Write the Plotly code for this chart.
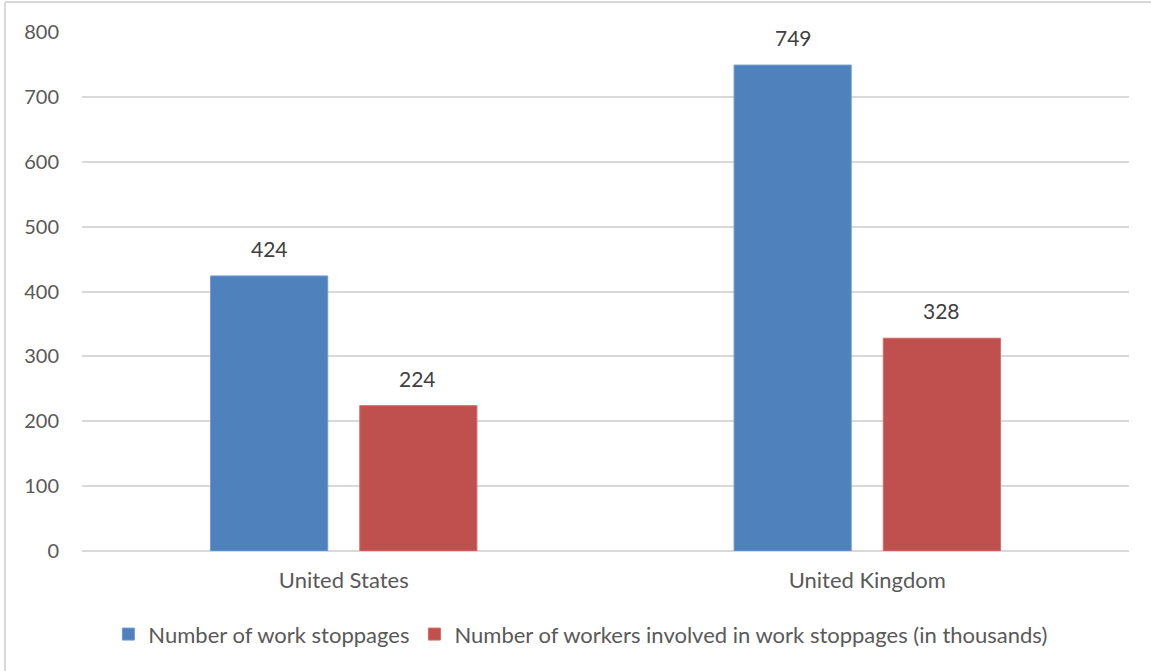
import plotly.graph_objects as go

categories = ["United States", "United Kingdom"]
stoppages = [424, 749]
workers = [224, 328]
series_names = ["Number of work stoppages",
                "Number of workers involved in work stoppages (in thousands)"]
y_ticks = [0, 100, 200, 300, 400, 500, 600, 700, 800]

FONT = "Lato, 'Open Sans', sans-serif"
LABEL_COLOR = "#404040"

fig = go.Figure()
fig.add_trace(go.Bar(
    x=categories, y=stoppages, name=series_names[0],
    marker=dict(color="#4F81BD", line=dict(color="#6F9AD0", width=1)),
))
fig.add_trace(go.Bar(
    x=categories, y=workers, name=series_names[1],
    marker=dict(color="#C0504D", line=dict(color="#D06A67", width=1)),
))

annotations = []
for vals, shift in ((stoppages, -74), (workers, 74)):
    for cat, v in zip(categories, vals):
        annotations.append(dict(
            x=cat, y=v, xref="x", yref="y", text=str(v), showarrow=False,
            xanchor="center", yanchor="bottom", xshift=shift, yshift=13,
            font=dict(size=21, color=LABEL_COLOR, family=FONT)))

fig.update_layout(
    width=1151, height=671,
    margin=dict(l=82, r=22, t=32, b=120),
    paper_bgcolor="white", plot_bgcolor="white",
    barmode="group", bargap=0.43, bargroupgap=0.215,
    font=dict(family=FONT, size=20, color="#595959"),
    showlegend=True,
    legend=dict(orientation="h", x=0.476, xanchor="center", y=-0.12, yanchor="top",
                font=dict(size=22, color="#595959"), itemwidth=30,
                traceorder="normal"),
    xaxis=dict(showgrid=False, showline=False, ticks="", ticklabelstandoff=14,
               tickfont=dict(size=22, color="#595959")),
    yaxis=dict(range=[0, 800], tickvals=y_ticks, showgrid=True,
               gridcolor="#D9D9D9", gridwidth=1.5, zeroline=True,
               zerolinecolor="#D9D9D9", zerolinewidth=1.5, showline=False,
               ticks="", ticklabelstandoff=22,
               tickfont=dict(size=20, color="#595959")),
    annotations=annotations,
    shapes=[
        dict(type="line", xref="paper", yref="paper",
             x0=-77/1047, x1=-77/1047, y0=-2, y1=30/519 + 1,
             line=dict(color="#D9D9D9", width=2)),
        dict(type="line", xref="paper", yref="paper",
             x0=-77/1047, x1=2, y0=30/519 + 1, y1=30/519 + 1,
             line=dict(color="#D9D9D9", width=2)),
    ],
)

fig.write_html("out.html")
